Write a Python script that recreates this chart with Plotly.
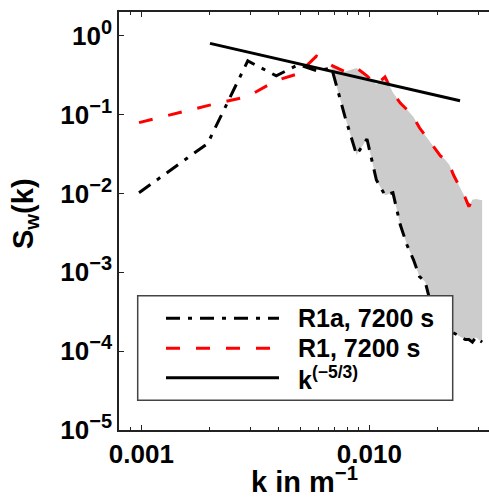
import plotly.graph_objects as go

# wavenumber k (1/m)
k = [0.000977, 0.001953, 0.00293, 0.003906, 0.004883, 0.005859, 0.006836, 0.007813,
     0.008789, 0.009766, 0.010742, 0.011719, 0.012695, 0.013672, 0.014648, 0.015625,
     0.016602, 0.017578, 0.018555, 0.019531, 0.020508, 0.021484, 0.022461, 0.023438,
     0.024414, 0.025391, 0.026367, 0.027344, 0.02832, 0.029297, 0.030273, 0.03125]

# R1a, 7200 s (black dash-dot)
s_r1a = [0.0102, 0.043, 0.48, 0.31, 0.43, 0.36, 0.39, 0.095,
         0.031, 0.049, 0.0148, 0.0095, 0.0102, 0.0040, 0.0022, 0.00144,
         0.00088, 0.00076, 0.00041, 0.00031, 0.00025, 0.00022, 0.00019, 0.00017,
         0.00016, 0.00015, 0.00014, 0.00014, 0.00013, 0.00015, 0.00014, 0.00013]

# R1, 7200 s (red dashed)
s_r1 = [0.079, 0.13, 0.17, 0.27, 0.33, 0.55, 0.42, 0.35,
        0.39, 0.31, 0.24, 0.30, 0.19, 0.14, 0.115, 0.093,
        0.068, 0.054, 0.045, 0.036, 0.030, 0.027, 0.023, 0.017,
        0.0136, 0.011, 0.0088, 0.0068, 0.0083, 0.0085, 0.0083, 0.0082]

# k^(-5/3) reference line endpoints
k_ref = [0.002, 0.025]
s_ref = [0.80, 0.15]

fill_start = 6  # index where the shaded band begins

x_ticks = [0.001, 0.01]
x_ticktext = ["0.001", "0.010"]
x_minor = [0.0008, 0.0009, 0.002, 0.003, 0.004, 0.005, 0.006, 0.007, 0.008, 0.009, 0.02, 0.03]
y_ticks = [1e-5, 1e-4, 1e-3, 1e-2, 1e-1, 1]
y_exponents = ["−5", "−4", "−3", "−2", "−1", "0"]

legend_labels = ["R1a, 7200 s", "R1, 7200 s", "k<sup>(−5/3)</sup>"]

FONT = "Liberation Sans, Arial, Helvetica, sans-serif"
DASHDOT = "14px,8px,4px,8px"
DASH = "14px,16px"
TICK_SIZE = 26
LEG_SIZE = 25
TITLE_SIZE = 29

y_ticktext = ["<b>10<sup><span style=\"font-size:20px\">%s</span></sup></b>" % e
              for e in y_exponents]

fig = go.Figure()

band_x = k[fill_start:] + k[fill_start:][::-1]
band_y = s_r1[fill_start:] + s_r1a[fill_start:][::-1]
fig.add_trace(go.Scatter(x=band_x, y=band_y, fill="toself", fillcolor="#cccccc",
                         line=dict(width=0), mode="lines", hoverinfo="skip", showlegend=False))
fig.add_trace(go.Scatter(x=k, y=s_r1a, mode="lines", name=legend_labels[0],
                         line=dict(color="black", width=3, dash=DASHDOT), showlegend=False))
fig.add_trace(go.Scatter(x=k, y=s_r1, mode="lines", name=legend_labels[1],
                         line=dict(color="#ff0000", width=3, dash=DASH), showlegend=False))
fig.add_trace(go.Scatter(x=k_ref, y=s_ref, mode="lines", name=legend_labels[2],
                         line=dict(color="black", width=3), showlegend=False))

W, H = 489, 497
L, R, T, B = 119, 0, 12, 67
pw, ph = W - L - R, H - T - B

def px(x):
    return (x - L) / pw

def py(y):
    return (H - B - y) / ph

# custom legend
shapes = [dict(type="rect", xref="paper", yref="paper", x0=px(137.7), x1=px(452.7),
               y0=py(400.3), y1=py(295.7), line=dict(color="#444444", width=1.5),
               fillcolor="white", layer="above")]
rows = [318.3, 348.3, 377.7]
styles = [dict(color="black", width=3, dash=DASHDOT),
          dict(color="#ff0000", width=3, dash=DASH),
          dict(color="black", width=3)]
annotations = []
for lab, yy, st in zip(legend_labels, rows, styles):
    shapes.append(dict(type="line", xref="paper", yref="paper", x0=px(166), x1=px(279),
                       y0=py(yy), y1=py(yy), line=st, layer="above"))
    annotations.append(dict(text="<b>" + lab + "</b>", xref="paper", yref="paper",
                            x=px(296), y=py(yy), xanchor="left", yanchor="middle",
                            showarrow=False, font=dict(family=FONT, size=LEG_SIZE, color="black")))

annotations.append(dict(text="<b>S<sub>w</sub>(k)</b>", xref="paper", yref="paper",
                        x=px(25), y=py(214), textangle=-90, xanchor="center", yanchor="middle",
                        showarrow=False, font=dict(family=FONT, size=TITLE_SIZE, color="black")))
annotations.append(dict(text="<b>k in m<sup>−1</sup></b>", xref="paper", yref="paper",
                        x=px(304), y=py(480), xanchor="center", yanchor="middle",
                        showarrow=False, font=dict(family=FONT, size=TITLE_SIZE, color="black")))

fig.update_layout(
    width=W, height=H,
    margin=dict(l=L, r=R, t=T, b=B, pad=0),
    paper_bgcolor="white", plot_bgcolor="white",
    shapes=shapes, annotations=annotations,
    showlegend=False,
    font=dict(family=FONT, size=TICK_SIZE, color="black"),
    xaxis=dict(type="log", range=[-3.098, -1.475], tickmode="array",
               tickvals=x_ticks, ticktext=["<b>%s</b>" % t for t in x_ticktext],
               ticks="inside", ticklen=5, tickwidth=1.2, tickcolor="#222",
               showline=True, linecolor="#222", linewidth=1.5, mirror="ticks",
               showgrid=False, zeroline=False,
               tickfont=dict(family=FONT, size=TICK_SIZE, color="black"),
               minor=dict(tickmode="array", tickvals=x_minor, ticks="inside",
                          ticklen=3, tickwidth=1, tickcolor="#222", showgrid=False)),
    yaxis=dict(type="log", range=[-5, 0.301], tickmode="array",
               tickvals=y_ticks, ticktext=y_ticktext,
               ticks="inside", ticklen=5, tickwidth=1.2, tickcolor="#222",
               showline=True, linecolor="#222", linewidth=1.5,
               showgrid=False, zeroline=False,
               tickfont=dict(family=FONT, size=TICK_SIZE, color="black")),
)

fig.write_html("out.html")
